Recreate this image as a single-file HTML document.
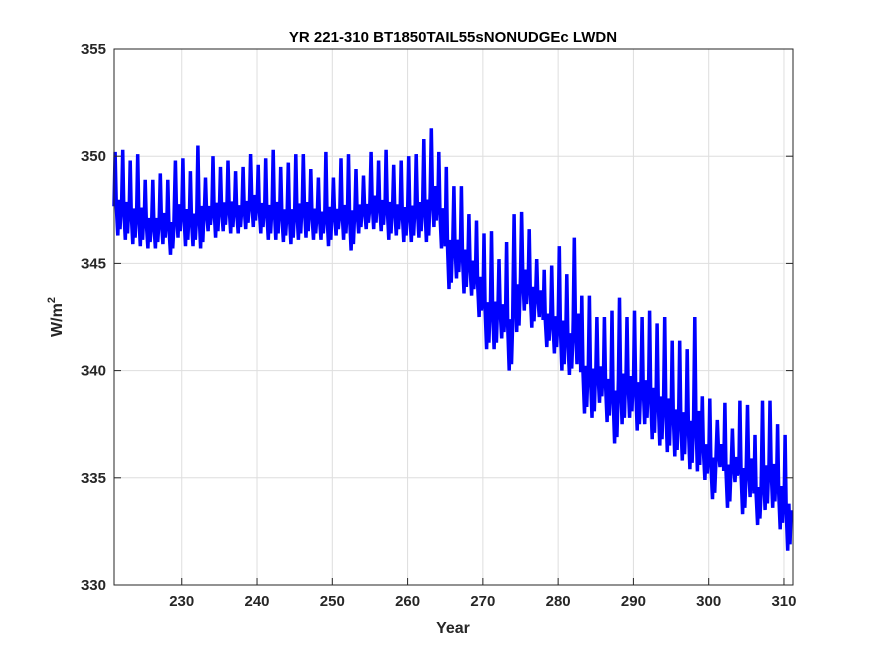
<!DOCTYPE html>
<html><head><meta charset="utf-8"><style>
body{margin:0;background:#fff;width:875px;height:656px;overflow:hidden;font-family:"Liberation Sans",sans-serif}
</style></head><body>
<svg id="chart" width="875" height="656" xmlns="http://www.w3.org/2000/svg" font-family="Liberation Sans, DejaVu Sans, sans-serif">
<rect x="0" y="0" width="875" height="656" fill="#fff"/>
<g id="grid"></g>
<g id="series"></g>
<rect x="114" y="49" width="679" height="536" fill="none" stroke="#262626" stroke-width="1"/>
<g id="axes"></g>
<text x="453" y="42" text-anchor="middle" font-size="15" font-weight="bold" fill="#000">YR 221-310 BT1850TAIL55sNONUDGEc LWDN</text>
<text x="453" y="633" text-anchor="middle" font-size="16" font-weight="bold" fill="#262626">Year</text>
<text transform="translate(62,317) rotate(-90)" text-anchor="middle" font-size="16" font-weight="bold" fill="#262626">W/m<tspan dy="-7" font-size="11">2</tspan></text>
</svg>
<script>
const years=[];for(let y=221;y<=310;y++)years.push(y);
const hiVals=[350.2,350.3,349.8,350.1,348.9,348.9,349.2,348.9,349.8,349.9,
349.3,350.5,349.0,350.0,349.5,349.8,349.3,349.5,350.1,349.6,
349.9,350.3,349.5,349.7,350.1,350.1,349.4,349.0,350.2,349.0,
349.9,350.1,349.4,349.1,350.2,349.8,350.3,349.6,349.8,350.0,
350.1,350.8,351.3,350.2,349.5,348.6,348.6,347.3,347.0,346.4,
346.5,345.2,346.0,347.3,347.4,346.6,345.2,344.7,344.9,345.8,
344.5,346.2,343.5,343.5,342.5,342.5,342.8,343.4,342.5,342.8,
342.5,342.8,342.2,342.5,341.4,341.4,341.0,342.5,338.8,338.7,
337.7,338.5,337.3,338.6,338.4,337.0,338.6,338.6,337.5,337.0];
const loVals=[346.3,346.1,345.9,345.8,345.7,345.7,345.9,345.4,346.2,345.8,
345.8,345.7,346.5,346.2,346.5,346.4,346.4,346.6,346.7,346.4,
346.1,346.1,346.0,345.9,346.1,346.2,346.1,346.1,345.8,346.3,
346.1,345.6,346.4,346.6,346.6,346.5,346.1,346.3,346.0,346.0,
346.2,346.0,346.7,345.7,343.8,344.3,343.6,343.5,342.5,341.0,
341.0,341.5,340.0,341.8,342.8,342.0,342.5,341.1,340.8,340.0,
339.8,340.3,338.0,337.8,338.5,337.6,336.6,337.5,337.8,337.2,
337.5,336.8,336.5,336.2,336.0,335.8,335.4,335.3,334.9,334.0,
335.5,333.6,334.8,333.3,334.1,332.8,333.5,333.6,332.6,331.6];
const xTicks=[230,240,250,260,270,280,290,300,310];
const yTicks=[330,335,340,345,350,355];
const X0=221,X1=311.2,Y0=330,Y1=355,L=114,R=793,T=49,B=585;
const sx=v=>L+(v-X0)/(X1-X0)*(R-L);
const sy=v=>B-(v-Y0)/(Y1-Y0)*(B-T);
const NS='http://www.w3.org/2000/svg';
const grid=document.getElementById('grid'),axes=document.getElementById('axes'),series=document.getElementById('series');
function mk(tag,attrs,parent){const e=document.createElementNS(NS,tag);for(const k in attrs)e.setAttribute(k,attrs[k]);parent.appendChild(e);return e;}
xTicks.forEach(t=>{
 const g=mk('line',{x1:sx(t),x2:sx(t),y1:T,y2:B,stroke:'#dedede','stroke-width':1},grid);
 
 
 const tk=mk('line',{x1:sx(t),x2:sx(t),y1:B,y2:B-7,stroke:'#262626'},axes);
 
 
 const tx=mk('text',{x:sx(t),y:B+21,'text-anchor':'middle','font-size':15,'font-weight':'bold',fill:'#262626'},axes);
 tx.textContent=t;
 
 
});
yTicks.forEach(t=>{
 const g=mk('line',{x1:L,x2:R,y1:sy(t),y2:sy(t),stroke:'#dedede','stroke-width':1},grid);
 
 
 const tk=mk('line',{x1:L,x2:L+7,y1:sy(t),y2:sy(t),stroke:'#262626'},axes);
 
 
 const tk2=mk('line',{x1:R,x2:R-7,y1:sy(t),y2:sy(t),stroke:'#262626'},axes);
 
 
 const tx=mk('text',{x:L-8,y:sy(t)+5,'text-anchor':'end','font-size':15,'font-weight':'bold',fill:'#262626'},axes);
 tx.textContent=t;
 
 
});
let pts=[];
years.forEach((y,i)=>{
 const hi=hiVals[i],lo=loVals[i],md=lo+(hi-lo)*0.35;
 pts.push([y,md],[y+0.15,hi],[y+0.3,md],[y+0.5,lo],[y+0.65,md+0.3],[y+0.8,lo+0.3],[y+0.95,md]);
});
const d=pts.map((p,i)=>(i?'L':'M')+sx(p[0]).toFixed(1)+' '+sy(p[1]).toFixed(1)).join(' ');
const path=mk('path',{d:d,fill:'none',stroke:'#0000ff','stroke-width':3.5,'stroke-linejoin':'miter'},series);


</script>
</body></html>
